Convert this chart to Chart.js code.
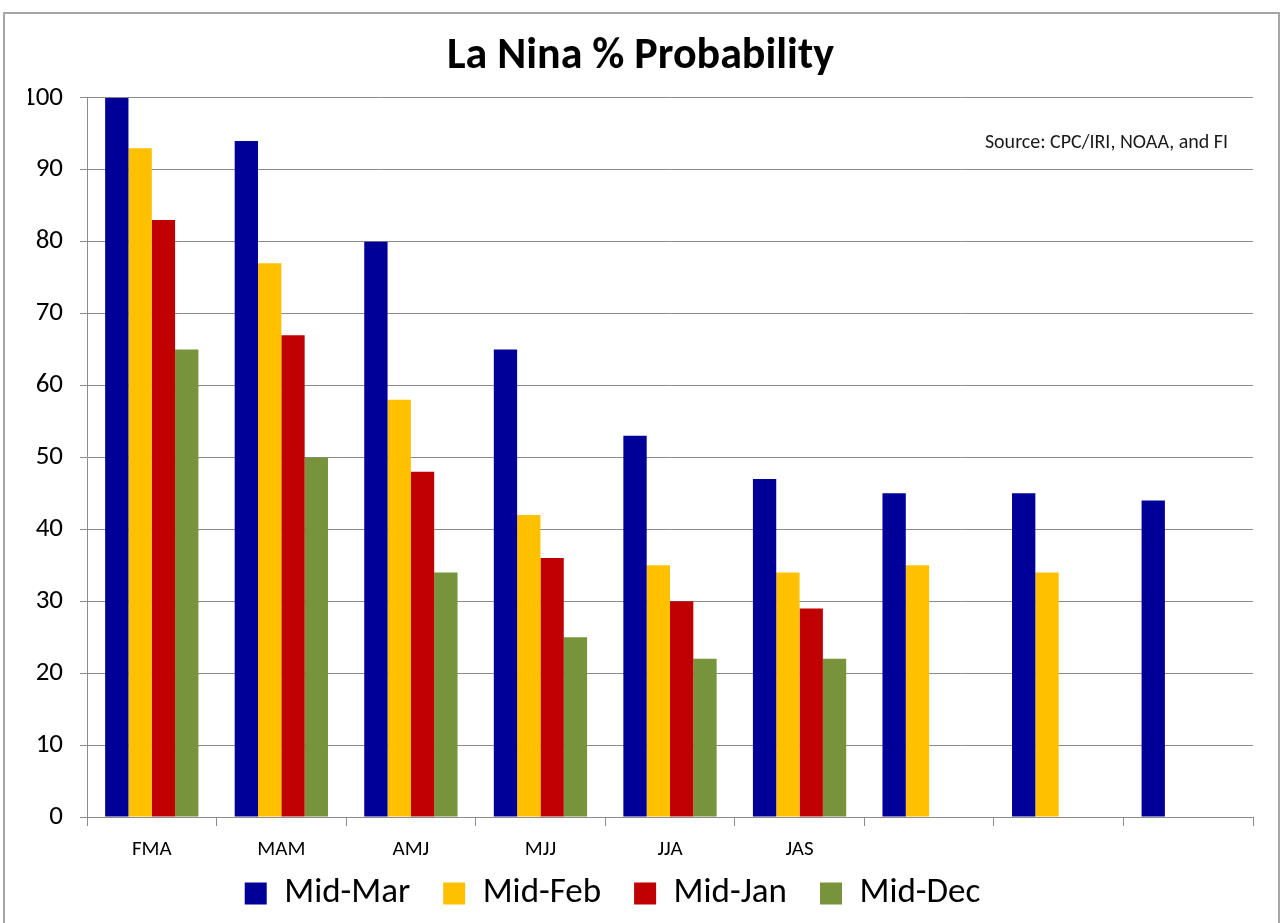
<!DOCTYPE html>
<html>
<head>
<meta charset="utf-8">
<script src="https://cdn.jsdelivr.net/npm/chart.js@4/dist/chart.umd.min.js"></script>
<style>
  html, body { margin: 0; padding: 0; background: #fff; }
  #frame { position: absolute; left: 3px; top: 12px; width: 1273px; height: 930px; border: 2px solid #a6a6a6; }
  #wrap { position: absolute; left: 0; top: 0; width: 1281px; height: 923px; }
</style>
</head>
<body>
<div id="frame"></div>
<div id="wrap"><canvas id="chart" width="1281" height="923"></canvas></div>
<script>
const seasons = ["FMA", "MAM", "AMJ", "MJJ", "JJA", "JAS", "", "", ""];
const midMar = [100, 94, 80, 65, 53, 47, 45, 45, 44];
const midFeb = [93, 77, 58, 42, 35, 34, 35, 34, null];
const midJan = [83, 67, 48, 36, 30, 29, null, null, null];
const midDec = [65, 50, 34, 25, 22, 22, null, null, null];
const yTicks = [0, 10, 20, 30, 40, 50, 60, 70, 80, 90, 100];

const FONT = "Carlito, 'Liberation Sans Narrow', 'Open Sans', sans-serif";

const sourceNote = {
  id: 'sourceNote',
  afterLayout(chart) {
    // legend sits a bit left of centre in the original
    const lg = chart.legend;
    if (lg) { lg.left -= 28; lg.right -= 28; }
  },
  afterDraw(chart) {
    const c = chart.ctx;
    c.save();
    c.font = "20px " + FONT;
    c.fillStyle = '#1a1a1a';
    c.textAlign = 'right';
    c.textBaseline = 'middle';
    c.fillText('Source: CPC/IRI, NOAA, and FI', 1228, 143);
    c.restore();
  }
};

const ctx = document.getElementById('chart');
new Chart(ctx, {
  type: 'bar',
  data: {
    labels: seasons,
    datasets: [
      { label: 'Mid-Mar', data: midMar, backgroundColor: '#000099' },
      { label: 'Mid-Feb', data: midFeb, backgroundColor: '#FFC000' },
      { label: 'Mid-Jan', data: midJan, backgroundColor: '#C00000' },
      { label: 'Mid-Dec', data: midDec, backgroundColor: '#77933C' }
    ]
  },
  options: {
    responsive: false,
    animation: false,
    layout: { padding: { left: 28, right: 28, top: 0, bottom: 2 } },
    datasets: { bar: { categoryPercentage: 0.72, barPercentage: 1.0 } },
    plugins: {
      title: {
        display: true,
        text: 'La Nina % Probability',
        color: '#000',
        font: { family: FONT, size: 44, weight: 'bold' },
        padding: { top: 31, bottom: 14 }
      },
      legend: {
        position: 'bottom',
        labels: {
          color: '#000',
          font: { family: FONT, size: 35 },
          boxWidth: 22,
          boxHeight: 22,
          padding: 33
        }
      },
      tooltip: { enabled: false }
    },
    scales: {
      x: {
        afterFit(s) {
          s.height = 26;
          s._computeLabelArea = () => undefined;
        },
        grid: { display: true, drawOnChartArea: false, color: '#8c8c8c', tickLength: 9, offset: true },
        border: { color: '#8c8c8c' },
        ticks: { color: '#000', font: { family: FONT, size: 21 }, padding: 11, maxRotation: 0, autoSkip: false }
      },
      y: {
        min: 0,
        max: 100,
        afterFit(s) { s.width = 59; },
        afterBuildTicks(s) { s.ticks = yTicks.map(v => ({ value: v })); },
        grid: { color: '#8c8c8c', tickLength: 7 },
        border: { color: '#8c8c8c' },
        ticks: { color: '#000', font: { family: FONT, size: 27 }, padding: 17 }
      }
    }
  },
  plugins: [sourceNote]
});
</script>
</body>
</html>
